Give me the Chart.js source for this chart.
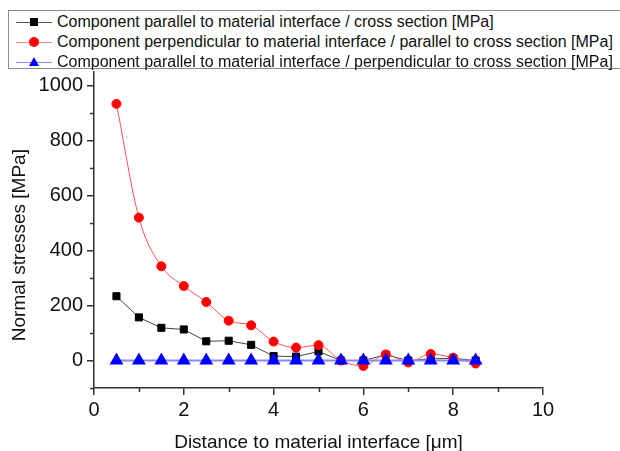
<!DOCTYPE html>
<html>
<head>
<meta charset="utf-8">
<script src="https://cdn.jsdelivr.net/npm/chart.js@4.4.0/dist/chart.umd.min.js"></script>
<style>
  body { margin: 0; background: #fff; }
  #wrap { position: relative; width: 620px; height: 451px; overflow: hidden; }
  #legend {
    position: absolute; left: 8px; top: 10px; width: 620px; height: 59px;
    border: 1px solid #8c8c8c; background: #fff;
    font-family: "Liberation Sans", Arial, sans-serif; font-size: 16px; color: #111;
    box-sizing: border-box; padding-top: 1px;
  }
  .row { height: 20px; line-height: 20px; white-space: nowrap; position: relative; }
  .sym { position: absolute; left: 7px; top: 0; width: 36px; height: 20px; }
  .sym .ln { position: absolute; left: 0; right: 0; top: 10px; height: 1px; }
  .sym .mk { position: absolute; }
  .txt { position: absolute; left: 48px; top: 0; }
</style>
</head>
<body>
<div id="wrap">
  <canvas id="chart" width="620" height="451"></canvas>
  <div id="legend"></div>
</div>
<script>
// Data
const distances = [0.5, 1, 1.5, 2, 2.5, 3, 3.5, 4, 4.5, 5, 5.5, 6, 6.5, 7, 7.5, 8, 8.5];
const parallelCross = [234, 157, 119, 113, 70, 72, 57, 16, 14, 33, 0, 0, 21, 0, 6, 8, 0];
const perpendicularParallel = [934, 520, 343, 271, 213, 145, 128, 69, 47, 56, 0, -20, 22, -7, 24, 10, -11];
const parallelPerpendicular = [0, 0, 0, 0, 0, 0, 0, 0, 0, 0, 0, 0, 0, 0, 0, 0, 0];
const seriesNames = [
    'Component parallel to material interface / cross section [MPa]',
    'Component perpendicular to material interface / parallel to cross section [MPa]',
    'Component parallel to material interface / perpendicular to cross section [MPa]'
];
const xTicks = [0, 2, 4, 6, 8, 10];
const xMinorTicks = [1, 3, 5, 7, 9];
const yTicks = [0, 200, 400, 600, 800, 1000];
const yMinorTicks = [-100, 100, 300, 500, 700, 900];
const yTitle = 'Normal stresses [MPa]';

function toPoints(values) {
    return distances.map((d, i) => ({ x: d, y: values[i] }));
}

const fontFamily = '"Liberation Sans", Arial, sans-serif';

// Minor tick marks and the y title, placed through the scales
const extras = {
    id: 'extras',
    afterDraw(chart) {
        const ctx = chart.ctx;
        const xs = chart.scales.x, ys = chart.scales.y;
        ctx.save();
        ctx.strokeStyle = '#333';
        ctx.lineWidth = 1.5;
        ctx.beginPath();
        xMinorTicks.forEach(v => {
            const px = Math.round(xs.getPixelForValue(v)) + 0.5;
            ctx.moveTo(px, xs.top);
            ctx.lineTo(px, xs.top + 4);
        });
        yMinorTicks.forEach(v => {
            const py = Math.round(ys.getPixelForValue(v)) + 0.5;
            ctx.moveTo(ys.right, py);
            ctx.lineTo(ys.right - 4, py);
        });
        ctx.stroke();

        // y axis title, centred a bit lower than the plot area
        ctx.translate(20, ys.getPixelForValue(420));
        ctx.rotate(-Math.PI / 2);
        ctx.fillStyle = '#111';
        ctx.font = '19px ' + fontFamily;
        ctx.textAlign = 'center';
        ctx.textBaseline = 'middle';
        ctx.fillText(yTitle, 0, 0);
        ctx.restore();
    }
};

const axisFont = { family: fontFamily, size: 20 };
const titleFont = { family: fontFamily, size: 19, lineHeight: 0.9 };

new Chart(document.getElementById('chart').getContext('2d'), {
    type: 'line',
    data: {
        datasets: [
            {
                label: seriesNames[0],
                data: toPoints(parallelCross),
                borderColor: '#444',
                borderWidth: 1,
                backgroundColor: '#000',
                pointBackgroundColor: '#000',
                pointBorderColor: '#000',
                pointStyle: 'rect',
                pointRadius: 5,
                tension: 0,
                order: 3
            },
            {
                label: seriesNames[1],
                data: toPoints(perpendicularParallel),
                borderColor: '#ff5050',
                borderWidth: 1,
                backgroundColor: '#ff0000',
                pointBackgroundColor: '#ff0000',
                pointBorderColor: '#ff0000',
                pointStyle: 'circle',
                pointRadius: 4.5,
                cubicInterpolationMode: 'monotone',
                order: 2
            },
            {
                label: seriesNames[2],
                data: toPoints(parallelPerpendicular),
                borderColor: '#8888ff',
                borderWidth: 2,
                backgroundColor: '#0000ff',
                pointBackgroundColor: '#0000ff',
                pointBorderColor: '#0000ff',
                pointStyle: 'triangle',
                pointRadius: 6,
                tension: 0,
                order: 1
            }
        ]
    },
    options: {
        responsive: false,
        animation: false,
        layout: { padding: { top: 72, right: 77, left: 0, bottom: 0 } },
        plugins: { legend: { display: false }, tooltip: { enabled: false } },
        scales: {
            x: {
                type: 'linear',
                min: 0,
                max: 10,
                afterFit(scale) { scale.height = 63; },
                afterBuildTicks(scale) { scale.ticks = xTicks.map(v => ({ value: v })); },
                grid: { drawOnChartArea: false, drawTicks: true, tickLength: 7, color: '#333', lineWidth: 1.5 },
                border: { display: true, color: '#333', width: 1.5 },
                ticks: { color: '#111', font: axisFont, padding: 3, maxRotation: 0, callback: v => String(v) },
                title: { display: true, text: 'Distance to material interface [μm]', color: '#111', font: titleFont, padding: { top: 0, bottom: 0 } }
            },
            y: {
                min: -100,
                max: 1050,
                afterFit(scale) { scale.width = 94; },
                afterBuildTicks(scale) { scale.ticks = yTicks.map(v => ({ value: v })); },
                grid: { drawOnChartArea: false, drawTicks: true, tickLength: 7, color: '#333', lineWidth: 1.5 },
                border: { display: true, color: '#333', width: 1.5 },
                ticks: { color: '#111', font: axisFont, padding: 4, callback: v => String(v) }
            }
        }
    },
    plugins: [extras]
});

// Legend box (line + marker + text)
const legendStyles = [
    { line: '#555', mark: '<div class="mk" style="left:14px;top:6px;width:8px;height:8px;background:#000"></div>' },
    { line: '#ff8c8c', mark: '<div class="mk" style="left:13px;top:5px;width:10px;height:10px;border-radius:50%;background:#f00"></div>' },
    { line: '#8c8cff', mark: '<div class="mk" style="left:13px;top:5px;width:0;height:0;border-left:5px solid transparent;border-right:5px solid transparent;border-bottom:9px solid #00f"></div>' }
];
document.getElementById('legend').innerHTML = seriesNames.map((name, i) => `
    <div class="row">
        <div class="sym"><div class="ln" style="background:${legendStyles[i].line}"></div>${legendStyles[i].mark}</div>
        <div class="txt">${name}</div>
    </div>`).join('');
</script>
</body>
</html>
